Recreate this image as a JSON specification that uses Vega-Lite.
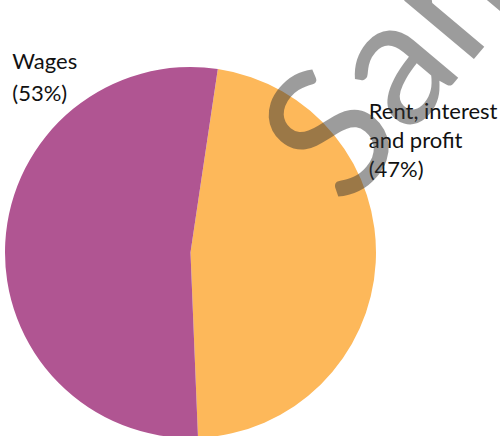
{
  "$schema": "https://vega.github.io/schema/vega-lite/v6.json",
  "width": 381,
  "height": 367,
  "autosize": "none",
  "padding": {"left": 0, "top": 69, "right": 119, "bottom": 0},
  "background": "white",
  "config": {"view": {"stroke": null}},
  "data": {
    "values": [
      {"category": "Rent, interest and profit", "share": 47, "label": "Rent, interest\nand profit\n(47%)"},
      {"category": "Wages", "share": 53, "label": "Wages\n(53%)"}
    ]
  },
  "layer": [
    {
      "mark": {"type": "arc", "radius": 185.5},
      "encoding": {
        "theta": {"field": "share", "type": "quantitative", "stack": true, "scale": {"range": [0.148, 6.431]}},
        "color": {
          "field": "category",
          "type": "nominal",
          "scale": {"domain": ["Rent, interest and profit", "Wages"], "range": ["#fdb85a", "#b05592"]},
          "legend": null
        }
      }
    },
    {
      "mark": {"type": "text", "radius": 200, "align": "left", "baseline": "alphabetic", "dx": -21.5, "dy": -144, "lineBreak": "\n", "lineHeight": 29, "fontSize": 22, "font": "Lato", "color": "#111111"},
      "encoding": {
        "theta": {"field": "share", "type": "quantitative", "stack": true, "scale": {"range": [0.148, 6.431]}},
        "order": {"field": "category"},
        "text": {"condition": {"test": "datum.category !== 'Wages'", "field": "label"}, "value": ""}
      }
    },
    {
      "mark": {"type": "text", "radius": 200, "align": "left", "baseline": "alphabetic", "dx": 21.5, "dy": -173, "lineBreak": "\n", "lineHeight": 32, "fontSize": 22, "font": "Lato", "color": "#111111"},
      "encoding": {
        "theta": {"field": "share", "type": "quantitative", "stack": true, "scale": {"range": [0.148, 6.431]}},
        "order": {"field": "category"},
        "text": {"condition": {"test": "datum.category === 'Wages'", "field": "label"}, "value": ""}
      }
    },
    {
      "data": {"values": [{"mark": "Sample"}]},
      "mark": {"type": "text", "theta": 1.311, "radius": 161.2, "angle": -50, "align": "left", "baseline": "alphabetic", "fontSize": 180, "font": "Lato", "color": "#333333", "opacity": 0.48},
      "encoding": {"text": {"field": "mark"}}
    }
  ]
}
